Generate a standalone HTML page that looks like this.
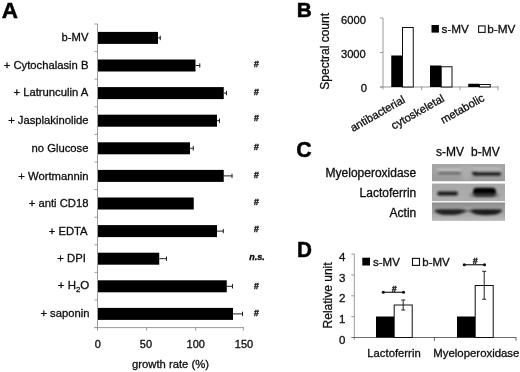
<!DOCTYPE html>
<html><head><meta charset="utf-8"><title>Figure</title>
<style>
html,body{margin:0;padding:0;background:#fff;}
body{width:520px;height:372px;overflow:hidden;}
svg{display:block;font-family:"Liberation Sans",sans-serif;}
.t11{font-size:11px;fill:#0a0a0a;stroke:#0a0a0a;stroke-width:0.28px;}
.t12{font-size:12px;fill:#0a0a0a;stroke:#0a0a0a;stroke-width:0.28px;}
.pl{font-size:21.5px;font-weight:bold;fill:#000;stroke:#000;stroke-width:0.5px;}
.ax{stroke:#8e8e8e;stroke-width:0.9;fill:none;}
.sig{font-size:9px;font-weight:bold;font-style:italic;fill:#0a0a0a;stroke:#0a0a0a;stroke-width:0.35px;}
</style></head><body>
<svg width="520" height="372" viewBox="0 0 520 372">
<defs>
<filter id="b1" x="-20%" y="-50%" width="140%" height="200%"><feGaussianBlur stdDeviation="1.2 0.9"/></filter>
<filter id="b2" x="-20%" y="-50%" width="140%" height="200%"><feGaussianBlur stdDeviation="1.5 1.2"/></filter>
<filter id="b3" x="-5%" y="-80%" width="110%" height="260%"><feGaussianBlur stdDeviation="0.5 1.0"/></filter>
<filter id="soft"><feGaussianBlur stdDeviation="0.35"/></filter>
<linearGradient id="g1" x1="0" y1="0" x2="0" y2="1"><stop offset="0" stop-color="#a6a6a6"/><stop offset="1" stop-color="#9a9a9a"/></linearGradient>
<linearGradient id="g2" x1="0" y1="0" x2="0" y2="1"><stop offset="0" stop-color="#a8a8a8"/><stop offset="1" stop-color="#adadad"/></linearGradient>
<linearGradient id="g3" x1="0" y1="0" x2="0" y2="1"><stop offset="0" stop-color="#989898"/><stop offset="0.55" stop-color="#a2a2a2"/><stop offset="1" stop-color="#bcbcbc"/></linearGradient>
</defs>
<rect width="520" height="372" fill="#fff"/>
<g filter="url(#soft)">

<text class="pl" transform="translate(1.8,17.8) scale(1.02,1)" style="font-size:22px">A</text>
<path class="ax" d="M97.5 24.0 V330.6"/>
<path class="ax" d="M94.5 327.6 H243.755"/>
<path class="ax" d="M94.5 24.00 H97.5"/>
<path class="ax" d="M94.5 51.60 H97.5"/>
<path class="ax" d="M94.5 79.20 H97.5"/>
<path class="ax" d="M94.5 106.80 H97.5"/>
<path class="ax" d="M94.5 134.40 H97.5"/>
<path class="ax" d="M94.5 162.00 H97.5"/>
<path class="ax" d="M94.5 189.60 H97.5"/>
<path class="ax" d="M94.5 217.20 H97.5"/>
<path class="ax" d="M94.5 244.80 H97.5"/>
<path class="ax" d="M94.5 272.40 H97.5"/>
<path class="ax" d="M94.5 300.00 H97.5"/>
<path class="ax" d="M94.5 327.60 H97.5"/>
<path class="ax" d="M146.60 327.1 V330.6"/>
<path class="ax" d="M195.60 327.1 V330.6"/>
<path class="ax" d="M243.40 327.1 V330.6"/>
<text class="t11" x="97.70" y="348.3" text-anchor="middle">0</text>
<text class="t11" x="145.90" y="348.3" text-anchor="middle">50</text>
<text class="t11" x="195.70" y="348.3" text-anchor="middle">100</text>
<text class="t11" x="244.00" y="348.3" text-anchor="middle">150</text>
<text class="t11" x="170.5" y="368.2" text-anchor="middle" style="font-size:11.25px">growth rate (%)</text>
<rect x="98.0" y="31.90" width="60.00" height="12.0" fill="#000"/>
<path d="M158.0 37.90 H160.75 M160.25 35.70 V40.10" stroke="#222" stroke-width="1" fill="none"/>
<text class="t11" x="88.5" y="41.40" text-anchor="end" style="font-size:11.25px">b-MV</text>
<rect x="98.0" y="59.50" width="97.50" height="12.0" fill="#000"/>
<path d="M195.5 65.50 H200.25 M199.75 63.30 V67.70" stroke="#222" stroke-width="1" fill="none"/>
<text class="t11" x="88.5" y="68.70" text-anchor="end" style="font-size:11.25px">+ Cytochalasin B</text>
<text class="sig" x="256.3" y="66.65" text-anchor="middle">#</text>
<rect x="98.0" y="87.10" width="125.75" height="12.0" fill="#000"/>
<path d="M223.75 93.10 H227.00 M226.50 90.90 V95.30" stroke="#222" stroke-width="1" fill="none"/>
<text class="t11" x="88.2" y="95.60" text-anchor="end" style="font-size:11.25px">+ Latrunculin A</text>
<text class="sig" x="256.3" y="94.50" text-anchor="middle">#</text>
<rect x="98.0" y="114.70" width="119.00" height="12.0" fill="#000"/>
<path d="M217.0 120.70 H220.00 M219.50 118.50 V122.90" stroke="#222" stroke-width="1" fill="none"/>
<text class="t11" x="88.5" y="124.20" text-anchor="end" style="font-size:11.25px">+ Jasplakinolide</text>
<text class="sig" x="256.3" y="121.40" text-anchor="middle">#</text>
<rect x="98.0" y="142.30" width="92.00" height="12.0" fill="#000"/>
<path d="M190.0 148.30 H193.75 M193.25 146.10 V150.50" stroke="#222" stroke-width="1" fill="none"/>
<text class="t11" x="88.5" y="151.50" text-anchor="end" style="font-size:11.25px">no Glucose</text>
<text class="sig" x="256.3" y="150.40" text-anchor="middle">#</text>
<rect x="98.0" y="169.90" width="125.75" height="12.0" fill="#000"/>
<path d="M223.75 175.90 H232.50 M232.00 173.70 V178.10" stroke="#222" stroke-width="1" fill="none"/>
<text class="t11" x="88.5" y="179.70" text-anchor="end" style="font-size:11.25px">+ Wortmannin</text>
<text class="sig" x="256.3" y="177.90" text-anchor="middle">#</text>
<rect x="98.0" y="197.50" width="95.75" height="12.0" fill="#000"/>
<text class="t11" x="88.5" y="207.00" text-anchor="end" style="font-size:11.25px">+ anti CD18</text>
<text class="sig" x="256.3" y="204.50" text-anchor="middle">#</text>
<rect x="98.0" y="225.10" width="119.00" height="12.0" fill="#000"/>
<path d="M217.0 231.10 H223.75 M223.25 228.90 V233.30" stroke="#222" stroke-width="1" fill="none"/>
<text class="t11" x="87.6" y="235.00" text-anchor="end" style="font-size:11.25px">+ EDTA</text>
<text class="sig" x="256.3" y="232.00" text-anchor="middle">#</text>
<rect x="98.0" y="252.70" width="61.25" height="12.0" fill="#000"/>
<path d="M159.25 258.70 H167.00 M166.50 256.50 V260.90" stroke="#222" stroke-width="1" fill="none"/>
<text class="t11" x="85.8" y="262.20" text-anchor="end" style="font-size:11.25px">+ DPI</text>
<text class="sig" style="font-size:9px" x="257" y="259.90" text-anchor="middle">n.s.</text>
<rect x="98.0" y="280.30" width="128.75" height="12.0" fill="#000"/>
<path d="M226.75 286.30 H233.00 M232.50 284.10 V288.50" stroke="#222" stroke-width="1" fill="none"/>
<text class="t11" x="89.3" y="289.20" text-anchor="end" style="font-size:11.5px">+ H<tspan font-size="7.8" dy="3.2">2</tspan><tspan dy="-3.2">O</tspan></text>
<text class="sig" x="256.3" y="288.80" text-anchor="middle">#</text>
<rect x="98.0" y="307.90" width="135.00" height="12.0" fill="#000"/>
<path d="M233.0 313.90 H243.00 M242.50 311.70 V316.10" stroke="#222" stroke-width="1" fill="none"/>
<text class="t11" x="89.5" y="317.40" text-anchor="end" style="font-size:11.25px">+ saponin</text>
<text class="sig" x="256.3" y="315.80" text-anchor="middle">#</text>
<text class="pl" x="296.8" y="17.4" style="font-size:20.8px">B</text>
<text class="t11" transform="translate(329.2,51.3) rotate(-90)" text-anchor="middle" style="font-size:12px">Spectral count</text>
<path class="ax" d="M383.0 18.0 V89.5 M380.0 87.0 H498.5"/>
<path class="ax" d="M380.0 18.0 H383.0"/>
<path class="ax" d="M380.0 52.5 H383.0"/>
<path class="ax" d="M380.0 87.0 H383.0"/>
<path class="ax" d="M421.6 86.5 V90.2"/>
<path class="ax" d="M460.0 86.5 V90.2"/>
<path class="ax" d="M498.0 86.5 V90.2"/>
<text class="t11" x="366.0" y="23.8" text-anchor="end" style="font-size:11.2px">6000</text>
<text class="t11" x="365.8" y="57.8" text-anchor="end" style="font-size:11.2px">3000</text>
<text class="t11" x="367.0" y="92.3" text-anchor="end" style="font-size:11.2px">0</text>
<rect x="391.25" y="55.5" width="11.25" height="31.5" fill="#000"/>
<rect x="402.5" y="27.5" width="10.75" height="59.5" fill="#fff" stroke="#111" stroke-width="1"/>
<rect x="430.0" y="65.5" width="11.25" height="21.5" fill="#000"/>
<rect x="441.25" y="66.75" width="10.75" height="20.25" fill="#fff" stroke="#111" stroke-width="1"/>
<rect x="468.25" y="83.75" width="11.25" height="3.25" fill="#000"/>
<rect x="479.5" y="84.5" width="10.75" height="2.5" fill="#fff" stroke="#111" stroke-width="1"/>
<rect x="431.5" y="25" width="7.4" height="7.6" fill="#000"/>
<text class="t11" x="441.5" y="32.6" style="font-size:11.75px">s-MV</text>
<rect x="478.6" y="25.9" width="6.5" height="6.5" fill="#fff" stroke="#111" stroke-width="1.1"/>
<text class="t11" x="487.3" y="32.6" style="font-size:11.75px">b-MV</text>
<text class="t11" transform="translate(405.9,102.0) rotate(-29.5)" text-anchor="end" style="font-size:11.3px">antibacterial</text>
<text class="t11" transform="translate(445.2,100.7) rotate(-29.5)" text-anchor="end" style="font-size:11.3px">cytoskeletal</text>
<text class="t11" transform="translate(485.3,100.2) rotate(-29.5)" text-anchor="end" style="font-size:11.3px">metabolic</text>
<text class="pl" transform="translate(296.3,156.5) scale(0.97,1)" style="font-size:22px">C</text>
<text class="t12" x="416.3" y="177.0" text-anchor="end">Myeloperoxidase</text>
<text class="t12" x="416.3" y="197.1" text-anchor="end">Lactoferrin</text>
<text class="t12" x="416.3" y="216.8" text-anchor="end">Actin</text>
<text class="t12" x="436" y="156.3">s-MV</text>
<text class="t12" x="471" y="156.3">b-MV</text>
</g>
<g>
<rect x="432" y="164" width="73" height="17.2" fill="url(#g1)"/>
<rect x="432" y="183.6" width="73" height="17.4" fill="url(#g2)"/>
<rect x="432" y="202.6" width="73" height="18.3" fill="url(#g3)"/>
<rect x="462" y="165" width="9" height="15" fill="#b4b4b4" opacity="0.6" filter="url(#b2)"/>
<rect x="437" y="168.2" width="25" height="3" rx="1.5" fill="#c8c8c8" opacity="0.8" filter="url(#b2)"/>
<rect x="471" y="167.2" width="31" height="3.2" rx="1.5" fill="#bcbcbc" opacity="0.8" filter="url(#b2)"/>
<rect x="438.2" y="171.9" width="22.5" height="2.6" rx="1.3" fill="#6a6a6a" filter="url(#b1)"/>
<path d="M472.5 172.0 Q474 171.4 478 172.6 H500.5 Q501.5 174 500.5 175.6 H478 Q473.5 176.2 472.5 174.6 Z" fill="#161616" filter="url(#b1)"/>
<rect x="437.3" y="191.6" width="20.6" height="3.8" rx="1.9" fill="#151515" filter="url(#b1)"/>
<rect x="473" y="187.8" width="23" height="8.6" rx="4" fill="#030303" filter="url(#b1)"/>
<rect x="470" y="193" width="29" height="4" rx="2" fill="#555" opacity="0.55" filter="url(#b2)"/>
<rect x="432" y="202.6" width="73" height="3" fill="#888" opacity="0.55" filter="url(#b3)"/>
<path d="M434.4 210.6 Q436 209.2 442 209.3 H458 Q464 209.2 465.8 210.6 Q465 213.0 458 214.4 Q449 215.4 441 214.4 Q435.5 213.2 434.4 210.6 Z" fill="#222" filter="url(#b1)"/>
<path d="M470.2 210.6 Q472 209.2 478 209.3 H495 Q500.5 209.2 502.2 210.4 Q501 213.2 494 214.8 Q485 215.8 477 214.6 Q471.5 213.4 470.2 210.6 Z" fill="#1c1c1c" filter="url(#b1)"/>
<rect x="462" y="210.3" width="11" height="1.4" fill="#555" filter="url(#b1)"/>
</g>
<g filter="url(#soft)">
<text class="pl" transform="translate(296.9,257.3) scale(0.94,1)" style="font-size:22px">D</text>
<path class="ax" d="M354.3 254.10 V340.0"/>
<path class="ax" style="stroke:#5a5a5a" d="M351.3 337.5 H516.3"/>
<path class="ax" d="M351.3 316.65 H354.3"/>
<path class="ax" d="M351.3 295.80 H354.3"/>
<path class="ax" d="M351.3 274.95 H354.3"/>
<path class="ax" d="M351.3 254.10 H354.3"/>
<path class="ax" style="stroke:#5a5a5a" d="M434.4 337.2 V340.9"/>
<path class="ax" style="stroke:#5a5a5a" d="M516.0 337.2 V340.9"/>
<text class="t11" x="345.3" y="344.10" text-anchor="end" style="font-size:11.5px">0</text>
<text class="t11" x="345.3" y="323.25" text-anchor="end" style="font-size:11.5px">1</text>
<text class="t11" x="345.3" y="302.40" text-anchor="end" style="font-size:11.5px">2</text>
<text class="t11" x="345.3" y="281.55" text-anchor="end" style="font-size:11.5px">3</text>
<text class="t11" x="345.3" y="260.70" text-anchor="end" style="font-size:11.5px">4</text>
<text class="t11" transform="translate(332.4,295.4) rotate(-90)" text-anchor="middle" style="font-size:12px">Relative unit</text>
<rect x="362.3" y="257.7" width="7.7" height="7.8" fill="#000"/>
<text class="t11" x="373" y="265.7" style="font-size:11.5px">s-MV</text>
<rect x="412.5" y="258.4" width="7" height="7" fill="#fff" stroke="#111" stroke-width="1.1"/>
<text class="t11" x="422.3" y="265.7" style="font-size:11.5px">b-MV</text>
<rect x="376.0" y="316.5" width="18.2" height="21.0" fill="#000"/>
<rect x="394.2" y="305.0" width="18" height="32.5" fill="#fff" stroke="#111" stroke-width="1"/>
<path d="M403.2 300.0 V310.0 M401.2 300.0 H405.2 M401.2 310.0 H405.2" stroke="#222" stroke-width="1" fill="none"/>
<path d="M383.3 292.25 H403.5" stroke="#111" stroke-width="1.1"/>
<circle cx="383.3" cy="292.25" r="1.55" fill="#111"/><circle cx="403.5" cy="292.25" r="1.55" fill="#111"/>
<text class="sig" style="font-size:8.6px" x="394.20" y="291.55" text-anchor="middle">#</text>
<rect x="457.0" y="316.5" width="18.2" height="21.0" fill="#000"/>
<rect x="475.2" y="285.5" width="18" height="52.0" fill="#fff" stroke="#111" stroke-width="1"/>
<path d="M484.2 271.25 V299.25 M482.2 271.25 H486.2 M482.2 299.25 H486.2" stroke="#222" stroke-width="1" fill="none"/>
<path d="M464.3 264.75 H484.5" stroke="#111" stroke-width="1.1"/>
<circle cx="464.3" cy="264.75" r="1.55" fill="#111"/><circle cx="484.5" cy="264.75" r="1.55" fill="#111"/>
<text class="sig" style="font-size:8.6px" x="475.20" y="264.05" text-anchor="middle">#</text>
<text class="t11" x="367.3" y="356.9" style="font-size:11.3px">Lactoferrin</text>
<text class="t11" x="433.3" y="357.0" style="font-size:11.4px">Myeloperoxidase</text>
</g></svg></body></html>
